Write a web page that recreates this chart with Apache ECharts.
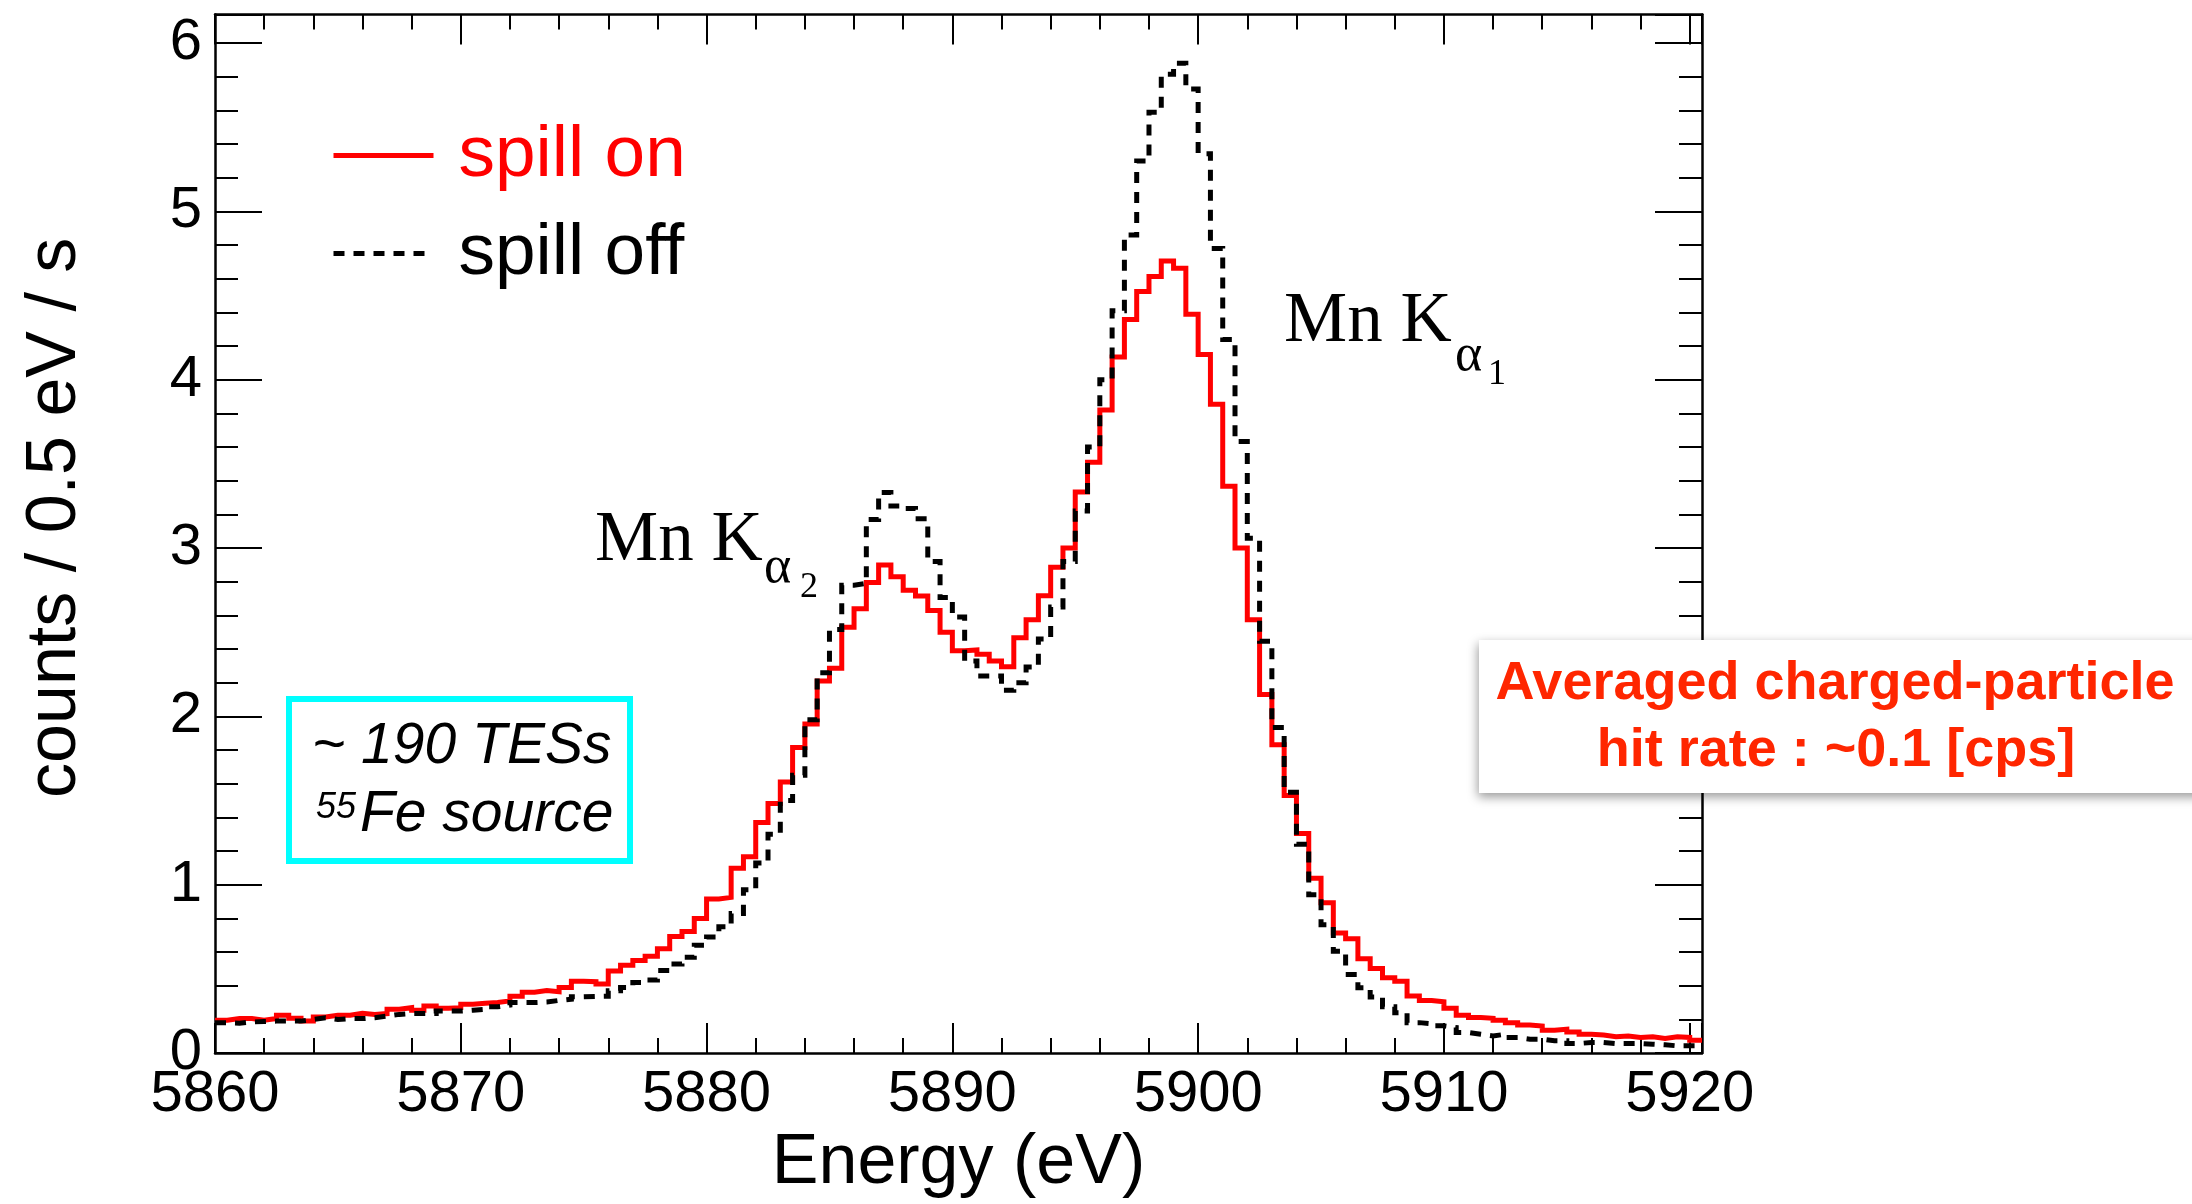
<!DOCTYPE html>
<html>
<head>
<meta charset="utf-8">
<script src="https://cdn.jsdelivr.net/npm/echarts@6/dist/echarts.min.js"></script>
<style>
html,body{margin:0;padding:0;background:#fff;}
#chart{width:2192px;height:1204px;}
</style>
</head>
<body>
<div id="chart"></div>
<script>
// Histogram binning (eV)
const binStart = 5860;
const binWidth = 0.5;
// Axis ranges and tick steps
const xRange = [5860, 5920.5];
const yRange = [0, 6.17];
const xTickStep = 10;
const yTickStep = 1;
// Series names
const seriesNames = ['spill on', 'spill off'];
// counts / 0.5 eV / s, one value per 0.5 eV bin starting at 5860 eV
const spillOn = [
  0.195, 0.205, 0.205, 0.195, 0.205, 0.225, 0.207, 0.19, 0.215, 0.225,
  0.225, 0.236, 0.23, 0.235, 0.26, 0.27, 0.254, 0.28, 0.266, 0.27,
  0.29, 0.296, 0.30, 0.31, 0.337, 0.362, 0.372, 0.364, 0.39, 0.427,
  0.424, 0.41, 0.487, 0.522, 0.55, 0.575, 0.62, 0.693, 0.723, 0.80,
  0.916, 0.925, 1.098, 1.166, 1.37, 1.483, 1.61, 1.815, 1.955, 2.21,
  2.287, 2.53, 2.64, 2.795, 2.9, 2.83, 2.75, 2.715, 2.63, 2.50,
  2.39, 2.395, 2.37, 2.33, 2.295, 2.467, 2.575, 2.717, 2.886, 3.0,
  3.333, 3.51, 3.82, 4.135, 4.358, 4.525, 4.614, 4.706, 4.663, 4.39,
  4.15, 3.855, 3.367, 3.0, 2.575, 2.13, 1.832, 1.53, 1.304, 1.038,
  0.893, 0.713, 0.68, 0.56, 0.502, 0.447, 0.427, 0.339, 0.313, 0.305,
  0.266, 0.225, 0.211, 0.207, 0.195, 0.181, 0.167, 0.161, 0.136, 0.142,
  0.126, 0.112, 0.108, 0.097, 0.102, 0.093, 0.097, 0.087, 0.097, 0.093,
  0.077
];
const spillOff = [
  0.18, 0.178, 0.185, 0.187, 0.19, 0.19, 0.19, 0.20, 0.21, 0.20,
  0.205, 0.205, 0.21, 0.22, 0.23, 0.235, 0.235, 0.235, 0.25, 0.25,
  0.255, 0.26, 0.275, 0.285, 0.30, 0.30, 0.303, 0.313, 0.32, 0.335,
  0.337, 0.338, 0.37, 0.39, 0.42, 0.435, 0.49, 0.53, 0.57, 0.64,
  0.69, 0.75, 0.83, 0.97, 1.13, 1.30, 1.50, 1.65, 1.98, 2.26,
  2.516, 2.78, 2.79, 3.17, 3.33, 3.25, 3.235, 3.175, 2.92, 2.707,
  2.59, 2.33, 2.24, 2.24, 2.155, 2.20, 2.293, 2.46, 2.65, 2.92,
  3.22, 3.6, 4.0, 4.41, 4.86, 5.30, 5.59, 5.815, 5.88, 5.727,
  5.343, 4.78, 4.24, 3.633, 3.058, 2.447, 1.935, 1.55, 1.24, 0.94,
  0.762, 0.605, 0.467, 0.388, 0.333, 0.276, 0.24, 0.181, 0.175, 0.162,
  0.152, 0.122, 0.112, 0.102, 0.112, 0.093, 0.083, 0.083, 0.073, 0.073,
  0.057, 0.063, 0.063, 0.057, 0.057, 0.057, 0.053, 0.049, 0.043, 0.043,
  0.043
];

function toSteps(vals) {
  const pts = vals.map((v, i) => [binStart + i * binWidth, v]);
  pts.push([binStart + vals.length * binWidth, vals[vals.length - 1]]);
  return pts;
}

const SANS = "'Liberation Sans', Arial, Helvetica, sans-serif";
const SERIF = "'Liberation Serif', 'Times New Roman', serif";

function axisCommon(extra) {
  return Object.assign({
    type: 'value',
    axisLine: { show: true, onZero: false, lineStyle: { color: '#000', width: 2.5 } },
    splitLine: { show: false },
    minorSplitLine: { show: false }
  }, extra);
}

function txt(text, x, y, font, color, align) {
  return {
    type: 'text', z: 100,
    style: {
      text: text, x: x, y: y, font: font, fill: color,
      align: align || 'left', textAlign: align || 'left',
      verticalAlign: 'middle', textVerticalAlign: 'middle'
    }
  };
}

const plainNum = function (v) { return String(v); };

const chart = echarts.init(document.getElementById('chart'), null, { renderer: 'canvas' });

const option = {
  backgroundColor: '#ffffff',
  animation: false,
  grid: { left: 215, right: 490, top: 14.5, bottom: 145, containLabel: false },
  legend: {
    orient: 'vertical',
    left: 326,
    top: 114,
    itemWidth: 100,
    itemHeight: 20,
    itemGap: 25,
    selectedMode: false,
    itemStyle: { opacity: 0, color: 'rgba(0,0,0,0)', borderWidth: 0 },
    textStyle: { fontSize: 73, fontFamily: SANS, lineHeight: 73, padding: [0, 0, 0, 20] },
    data: [
      { name: seriesNames[0], textStyle: { color: '#ff0000' },
        lineStyle: { color: '#ff0000', width: 5, type: 'solid' } },
      { name: seriesNames[1], textStyle: { color: '#000000' },
        lineStyle: { color: '#000000', width: 5, type: [11, 9] } }
    ]
  },
  xAxis: [
    axisCommon({
      position: 'bottom', min: xRange[0], max: xRange[1], interval: xTickStep,
      name: 'Energy (eV)', nameLocation: 'middle', nameGap: 72,
      nameTextStyle: { fontSize: 70, fontFamily: SANS, color: '#000', lineHeight: 70 },
      axisTick: { show: true, inside: true, length: 30, lineStyle: { color: '#000', width: 2 } },
      minorTick: { show: true, splitNumber: 5, length: 15, lineStyle: { color: '#000', width: 2 } },
      axisLabel: { show: true, margin: 13, fontSize: 58, fontFamily: SANS, color: '#000', lineHeight: 58, showMaxLabel: false, formatter: plainNum }
    }),
    axisCommon({
      position: 'top', min: xRange[0], max: xRange[1], interval: xTickStep,
      axisTick: { show: true, inside: true, length: 30, lineStyle: { color: '#000', width: 2 } },
      minorTick: { show: true, splitNumber: 5, length: 15, lineStyle: { color: '#000', width: 2 } },
      axisLabel: { show: false }
    })
  ],
  yAxis: [
    axisCommon({
      position: 'left', min: yRange[0], max: yRange[1], interval: yTickStep,
      name: 'counts / 0.5 eV / s', nameLocation: 'middle', nameGap: 124, nameRotate: 90,
      nameTextStyle: { fontSize: 70, fontFamily: SANS, color: '#000', lineHeight: 70, padding: [0, 0, 0, 32] },
      axisTick: { show: true, inside: true, length: 47, lineStyle: { color: '#000', width: 2 } },
      minorTick: { show: true, splitNumber: 5, length: 23, lineStyle: { color: '#000', width: 2 } },
      axisLabel: { show: true, margin: 13, fontSize: 58, fontFamily: SANS, color: '#000', showMaxLabel: false, formatter: plainNum }
    }),
    axisCommon({
      position: 'right', min: yRange[0], max: yRange[1], interval: yTickStep,
      axisTick: { show: true, inside: true, length: 47, lineStyle: { color: '#000', width: 2 } },
      minorTick: { show: true, splitNumber: 5, length: 23, lineStyle: { color: '#000', width: 2 } },
      axisLabel: { show: false }
    })
  ],
  series: [
    {
      name: seriesNames[0], type: 'line', step: 'end', xAxisIndex: 0, yAxisIndex: 0,
      symbol: 'none', showSymbol: false, clip: true, z: 3,
      color: '#ff0000',
      lineStyle: { color: '#ff0000', width: 5, cap: 'butt', join: 'miter' },
      data: toSteps(spillOn)
    },
    {
      name: seriesNames[1], type: 'line', step: 'end', xAxisIndex: 0, yAxisIndex: 0,
      symbol: 'none', showSymbol: false, clip: true, z: 4,
      color: '#000000',
      lineStyle: { color: '#000000', width: 5, type: [11, 9], cap: 'butt', join: 'miter' },
      data: toSteps(spillOff)
    }
  ],
  graphic: [
    // Mn K alpha2 label
    txt('Mn K', 595, 541.5, '71px ' + SERIF, '#000'),
    txt('\u03b1', 764, 568, '52px ' + SERIF, '#000'),
    txt('2', 800, 588, '36px ' + SERIF, '#000'),
    // Mn K alpha1 label
    txt('Mn K', 1284, 322.5, '71px ' + SERIF, '#000'),
    txt('\u03b1', 1455, 356, '52px ' + SERIF, '#000'),
    txt('1', 1488, 375, '36px ' + SERIF, '#000'),
    // cyan info box
    {
      type: 'rect', z: 100,
      shape: { x: 289, y: 699, width: 341, height: 162 },
      style: { fill: 'rgba(255,255,255,0)', stroke: '#00ffff', lineWidth: 6 }
    },
    txt('~ 190 TESs', 312, 747, 'italic 57px ' + SANS, '#000'),
    txt('55', 316, 808, 'italic 36px ' + SANS, '#000'),
    txt('Fe source', 360, 815.5, 'italic 57px ' + SANS, '#000'),
    // red annotation box
    {
      type: 'rect', z: 100,
      shape: { x: 1479, y: 640, width: 760, height: 153 },
      style: { fill: '#ffffff', shadowBlur: 10, shadowOffsetX: -1, shadowOffsetY: 4, shadowColor: 'rgba(0,0,0,0.4)' }
    },
    txt('Averaged charged-particle', 1835, 684.5, 'bold 54px ' + SANS, '#ff2600', 'center'),
    txt('hit rate : ~0.1 [cps]', 1836, 751.5, 'bold 54px ' + SANS, '#ff2600', 'center')
  ]
};

chart.setOption(option);
</script>
</body>
</html>
